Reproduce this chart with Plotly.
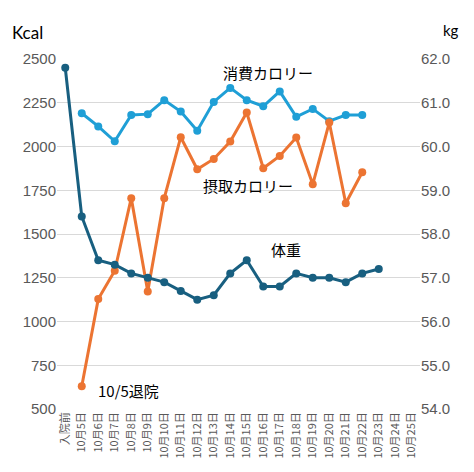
import plotly.graph_objects as go

# categories: before admission + Oct 5..25
days = ["入院前"] + ["10月%d日" % d for d in range(5, 26)]

# kcal burned (消費) / eaten (摂取), kg (体重)
burned = [None, 2190, 2115, 2030, 2180, 2185, 2265, 2200, 2090, 2255, 2335,
          2265, 2230, 2315, 2170, 2215, 2145, 2180, 2180, None, None, None]
eaten = [None, 630, 1128, 1290, 1705, 1172, 1705, 2053, 1870, 1929, 2028,
         2194, 1876, 1946, 2051, 1784, 2137, 1676, 1853, None, None, None]
weight = [61.8, 58.4, 57.4, 57.3, 57.1, 57.0, 56.9, 56.7, 56.5, 56.6, 57.1,
          57.4, 56.8, 56.8, 57.1, 57.0, 57.0, 56.9, 57.1, 57.2, None, None]

C_BURN = "#1f9fd6"
C_EAT = "#ec7432"
C_KG = "#185f80"
JP = "Noto Sans CJK JP"

fig = go.Figure()
fig.add_trace(go.Scatter(x=days, y=burned, mode="lines+markers", name="消費カロリー",
                         line=dict(color=C_BURN, width=3), marker=dict(size=8, color=C_BURN)))
fig.add_trace(go.Scatter(x=days, y=eaten, mode="lines+markers", name="摂取カロリー",
                         line=dict(color=C_EAT, width=3), marker=dict(size=8, color=C_EAT)))
fig.add_trace(go.Scatter(x=days, y=weight, mode="lines+markers", name="体重", yaxis="y2",
                         line=dict(color=C_KG, width=3), marker=dict(size=8, color=C_KG)))

tickfont = dict(family="Liberation Sans, " + JP, size=15, color="#595959")
# page has 8px body margin, so the figure is 8px smaller than the window
fig.update_layout(
    width=466, height=464,
    margin=dict(l=49, r=54, t=51, b=63),
    paper_bgcolor="white", plot_bgcolor="white",
    showlegend=False,
    xaxis=dict(type="category", categoryarray=days, range=[-0.5, len(days) - 0.5],
               tickangle=-90, automargin=False,
               tickfont=dict(family=JP, size=11, color="#595959"),
               showgrid=False, showline=False, ticks=""),
    yaxis=dict(range=[500, 2500], dtick=250, automargin=False, tickfont=tickfont,
               gridcolor="#d9d9d9", gridwidth=1, zeroline=False, ticks="", ticklen=0,
               showline=False),
    yaxis2=dict(range=[54, 62], dtick=1, tickformat=".1f", overlaying="y", side="right",
                automargin=False, tickfont=tickfont, showgrid=False, zeroline=False,
                showline=False),
)

ann = dict(showarrow=False, xref="paper", yref="paper", xanchor="center", yanchor="middle")
labfont = dict(family=JP, size=15, color="black")
fig.add_annotation(text="消費カロリー", x=0.581, y=0.961, font=labfont, **ann)
fig.add_annotation(text="摂取カロリー", x=0.526, y=0.640, font=labfont, **ann)
fig.add_annotation(text="体重", x=0.631, y=0.456, font=labfont, **ann)
fig.add_annotation(text="10/5退院", x=0.198, y=0.054, font=labfont, **ann)
fig.add_annotation(text="Kcal", x=-0.130, y=1.075, showarrow=False, xref="paper", yref="paper",
                   xanchor="left", yanchor="middle",
                   font=dict(family="Lato, " + JP, size=17, color="black"))
fig.add_annotation(text="kg", x=1.085, y=1.083,
                   font=dict(family="Lato, " + JP, size=15, color="black"), **ann)

fig.write_html("out.html")
